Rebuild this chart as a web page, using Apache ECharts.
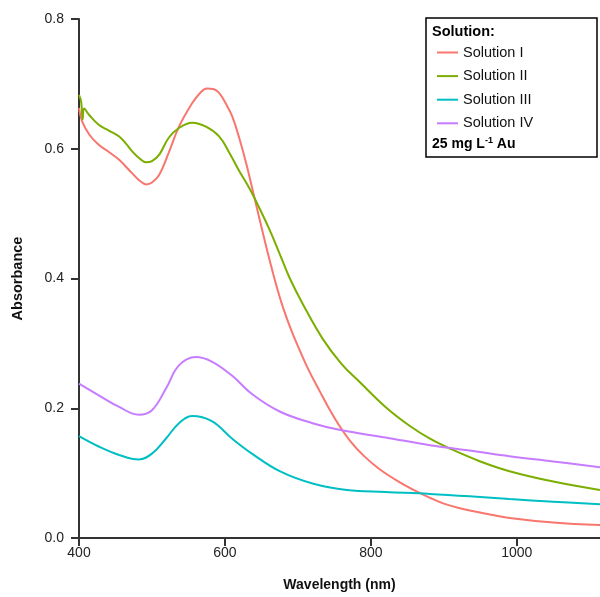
<!DOCTYPE html>
<html>
<head>
<meta charset="utf-8">
<script src="https://cdn.jsdelivr.net/npm/echarts@6/dist/echarts.min.js"></script>
<style>
  html, body { margin: 0; padding: 0; background: #fff; }
  #chart { width: 600px; height: 597px; }
</style>
</head>
<body>
<div id="chart"></div>
<script>
// wavelength (nm) / absorbance
var wl1 = [400, 404, 414, 427, 441, 455, 473, 484, 492, 500, 510, 523, 537, 555, 566, 575, 584, 592, 601, 610, 620, 629, 641, 652, 662, 671, 680, 691, 703, 716, 730, 744, 758, 772, 790, 812, 838, 864, 881, 900, 922, 960, 990, 1050, 1114];
var abs1 = [0.663, 0.643, 0.622, 0.606, 0.595, 0.583, 0.562, 0.550, 0.545, 0.548, 0.560, 0.594, 0.634, 0.670, 0.686, 0.693, 0.692, 0.686, 0.670, 0.650, 0.615, 0.578, 0.522, 0.470, 0.425, 0.387, 0.354, 0.320, 0.288, 0.256, 0.226, 0.197, 0.171, 0.149, 0.127, 0.106, 0.087, 0.071, 0.062, 0.053, 0.046, 0.037, 0.031, 0.024, 0.020];

var wl2 = [400, 403, 405, 407, 414, 427, 441, 455, 465, 473, 483, 492, 500, 510, 523, 537, 555, 574, 592, 606, 619, 630, 640, 660, 675, 689, 707, 734, 760, 785, 820, 853, 881, 908, 950, 990, 1050, 1114];
var abs2 = [0.683, 0.672, 0.645, 0.662, 0.652, 0.637, 0.628, 0.619, 0.607, 0.596, 0.585, 0.579, 0.581, 0.591, 0.617, 0.632, 0.640, 0.634, 0.619, 0.594, 0.567, 0.546, 0.525, 0.478, 0.438, 0.400, 0.360, 0.307, 0.268, 0.240, 0.202, 0.173, 0.153, 0.138, 0.118, 0.103, 0.087, 0.074];

var wl3 = [400, 427, 455, 482, 500, 519, 537, 555, 582, 610, 637, 675, 720, 767, 820, 881, 940, 990, 1050, 1114];
var abs3 = [0.157, 0.141, 0.128, 0.121, 0.130, 0.153, 0.177, 0.188, 0.180, 0.153, 0.130, 0.103, 0.084, 0.074, 0.071, 0.068, 0.064, 0.060, 0.056, 0.052];

var wl4 = [400, 427, 455, 482, 500, 519, 537, 560, 582, 610, 637, 675, 720, 760, 820, 881, 940, 990, 1050, 1114];
var abs4 = [0.238, 0.220, 0.202, 0.190, 0.197, 0.230, 0.266, 0.279, 0.272, 0.250, 0.222, 0.195, 0.177, 0.166, 0.155, 0.143, 0.134, 0.126, 0.118, 0.109];

var names = ['Solution I', 'Solution II', 'Solution III', 'Solution IV'];
var colors = ['#F8766D', '#7CAE00', '#00BFC4', '#C77CFF'];
var xTicks = [400, 600, 800, 1000];

function pairs(xs, ys) {
    var out = [];
    for (var i = 0; i < xs.length; i++) {
        out.push([xs[i], ys[i]]);
    }
    return out;
}

var font = "'Liberation Sans', Arial, Helvetica, sans-serif";
var myChart = echarts.init(document.getElementById('chart'));

var allData = [pairs(wl1, abs1), pairs(wl2, abs2), pairs(wl3, abs3), pairs(wl4, abs4)];
var series = names.map(function (n, i) {
    return {
        name: n,
        type: 'line',
        data: allData[i],
        symbol: 'none',
        smooth: 0.4,
        lineStyle: { color: colors[i], width: 2 },
        itemStyle: { color: colors[i] }
    };
});

var axisLine = { show: true, lineStyle: { color: '#333', width: 2 } };
var axisTick = { show: true, length: 8, lineStyle: { color: '#333', width: 2 } };

var option = {
    animation: false,
    textStyle: { fontFamily: font },
    grid: { left: 79, right: 0, top: 19, bottom: 57 },
    xAxis: {
        type: 'value',
        min: 400,
        max: 1114,
        interval: 200,
        name: 'Wavelength (nm)',
        nameLocation: 'middle',
        nameGap: 40,
        nameTextStyle: { fontFamily: font, fontSize: 14, fontWeight: 'bold', color: '#111' },
        axisLine: axisLine,
        axisTick: axisTick,
        splitLine: { show: false },
        axisLabel: {
            fontFamily: font, fontSize: 14, color: '#222', margin: 8,
            showMaxLabel: false,
            formatter: function (v) { return xTicks.indexOf(v) >= 0 ? String(v) : ''; }
        }
    },
    yAxis: {
        type: 'value',
        min: 0,
        max: 0.8,
        interval: 0.2,
        name: 'Absorbance',
        nameLocation: 'middle',
        nameGap: 54,
        nameTextStyle: { fontFamily: font, fontSize: 14.5, fontWeight: 'bold', color: '#111' },
        axisLine: axisLine,
        axisTick: axisTick,
        splitLine: { show: false },
        axisLabel: {
            fontFamily: font, fontSize: 14, color: '#222', margin: 15,
            formatter: function (v) { return v.toFixed(1); }
        }
    },
    legend: {
        orient: 'vertical',
        left: 437,
        top: 45,
        padding: 0,
        icon: 'rect',
        itemWidth: 21,
        itemHeight: 2,
        itemGap: 8.6,
        textStyle: { fontFamily: font, fontSize: 14.5, color: '#111', lineHeight: 14 },
        data: names
    },
    graphic: [
        {
            type: 'rect',
            shape: { x: 426, y: 18, width: 171, height: 139 },
            style: { fill: '#fff', stroke: '#000', lineWidth: 1.5 },
            z: 0
        },
        {
            type: 'text',
            x: 432, y: 24,
            style: { text: 'Solution:', font: 'bold 14.5px ' + font, fill: '#000' },
            z: 10
        },
        {
            type: 'text',
            x: 432, y: 136,
            style: {
                text: '{a|25 mg L}{s|-1}{a| Au}',
                rich: {
                    a: { fontFamily: font, fontWeight: 'bold', fontSize: 14, fill: '#000', lineHeight: 16 },
                    s: { fontFamily: font, fontWeight: 'bold', fontSize: 9, fill: '#000', verticalAlign: 'top', lineHeight: 16 }
                }
            },
            z: 10
        }
    ],
    series: series
};
myChart.setOption(option);
</script>
</body>
</html>
